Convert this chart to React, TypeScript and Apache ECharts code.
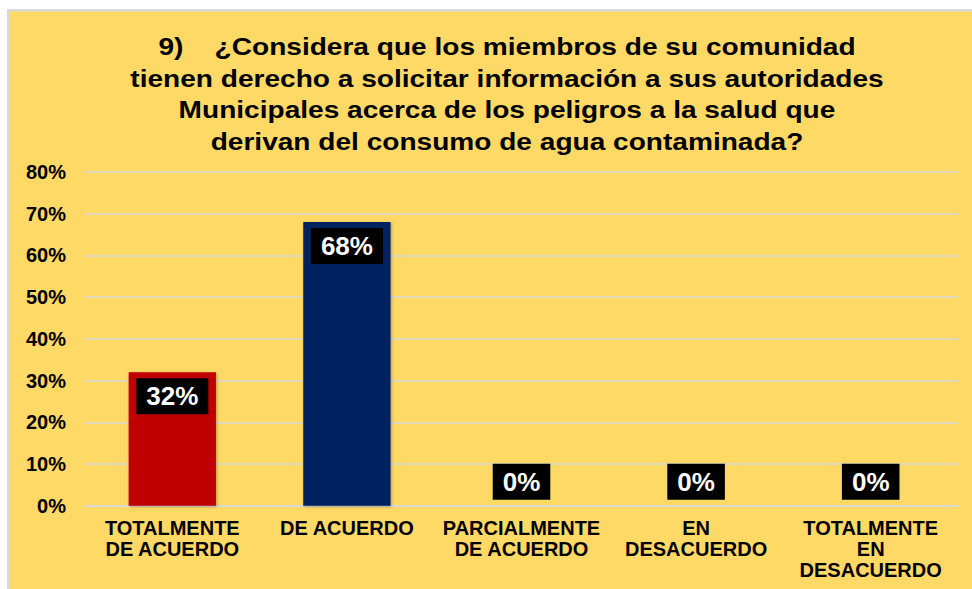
import React, { useEffect, useRef } from "react";
import * as echarts from "echarts";

const titleLines = [
  "9)\u00a0\u00a0\u00a0\u00a0¿Considera que los miembros de su comunidad",
  "tienen derecho a solicitar información a sus autoridades",
  "Municipales acerca de los peligros a la salud que",
  "derivan del consumo de agua contaminada?",
];
const categories = [
  "TOTALMENTE\nDE ACUERDO",
  "DE ACUERDO",
  "PARCIALMENTE\nDE ACUERDO",
  "EN\nDESACUERDO",
  "TOTALMENTE\nEN\nDESACUERDO",
];
const values = [0.32, 0.68, 0, 0, 0];
const yMin = 0;
const yMax = 0.8;
const yStep = 0.1;

const barColors = ["#C00000", "#002060", "#C00000", "#C00000", "#C00000"];
const FONT = 'Arial, "Liberation Sans", sans-serif';

export default function App() {
  const ref = useRef<HTMLDivElement>(null);
  useEffect(() => {
    if (!ref.current) return;
    const chart = echarts.init(ref.current, undefined, { renderer: "svg" });
    const pct = (v: number) => `${Math.round(v * 100)}%`;
    chart.setOption({
      animation: false,
      backgroundColor: "#FFD966",
      textStyle: { fontFamily: FONT },
      graphic: [
        { type: "rect", shape: { x: 0, y: 0, width: 972, height: 9 }, style: { fill: "#ffffff" }, silent: true },
        { type: "rect", shape: { x: 0, y: 0, width: 7, height: 589 }, style: { fill: "#ffffff" }, silent: true },
        { type: "rect", shape: { x: 7, y: 9, width: 965, height: 2.5 }, style: { fill: "#D9D9D9" }, silent: true },
        { type: "rect", shape: { x: 7, y: 9, width: 2, height: 580 }, style: { fill: "#D9D9D9" }, silent: true },
        {
          type: "text",
          x: 507,
          y: 31,
          scaleX: 1.17,
          silent: true,
          style: {
            text: titleLines.join("\n"),
            fill: "#000",
            font: `bold 24px ${FONT}`,
            fontFamily: FONT,
            fontSize: 24,
            fontWeight: "bold",
            lineHeight: 31.5,
            textAlign: "center",
            textVerticalAlign: "top",
          },
        },
      ],
      grid: { left: 85, right: 14, top: 172, bottom: 83.3, containLabel: false },
      xAxis: {
        type: "category",
        data: categories,
        axisLine: { show: true, lineStyle: { color: "#D9D9D9", width: 1.5 } },
        axisTick: { show: false },
        axisLabel: {
          interval: 0,
          color: "#000",
          fontFamily: FONT,
          fontSize: 20,
          fontWeight: "bold",
          lineHeight: 21,
          margin: 12,
        },
      },
      yAxis: {
        type: "value",
        min: yMin,
        max: yMax,
        interval: yStep,
        axisLine: { show: false },
        axisTick: { show: false },
        splitLine: { lineStyle: { color: "#D9D9D9", width: 1.5 } },
        axisLabel: {
          color: "#000",
          fontFamily: FONT,
          fontSize: 20,
          fontWeight: "bold",
          margin: 19,
          formatter: (v: number) => pct(v),
        },
      },
      series: [
        {
          type: "bar",
          barWidth: "50%",
          data: values.map((v, i) => ({
            value: v,
            itemStyle: {
              color: barColors[i],
              shadowBlur: 3,
              shadowOffsetX: 1,
              shadowOffsetY: 1,
              shadowColor: "rgba(0,0,0,0.3)",
            },
            label: v > 0 ? { position: "insideTop", distance: 6 } : { position: "top", distance: 6 },
          })),
          label: {
            show: true,
            formatter: (p: any) => pct(p.value),
            color: "#fff",
            fontFamily: FONT,
            fontSize: 26,
            fontWeight: "bold",
            backgroundColor: "#000",
            padding: [5, 10, 5, 10],
            lineHeight: 26,
          },
        },
      ],
    });
    return () => chart.dispose();
  }, []);
  return <div ref={ref} style={{ position: "absolute", left: 0, top: 0, width: 972, height: 589 }} />;
}
